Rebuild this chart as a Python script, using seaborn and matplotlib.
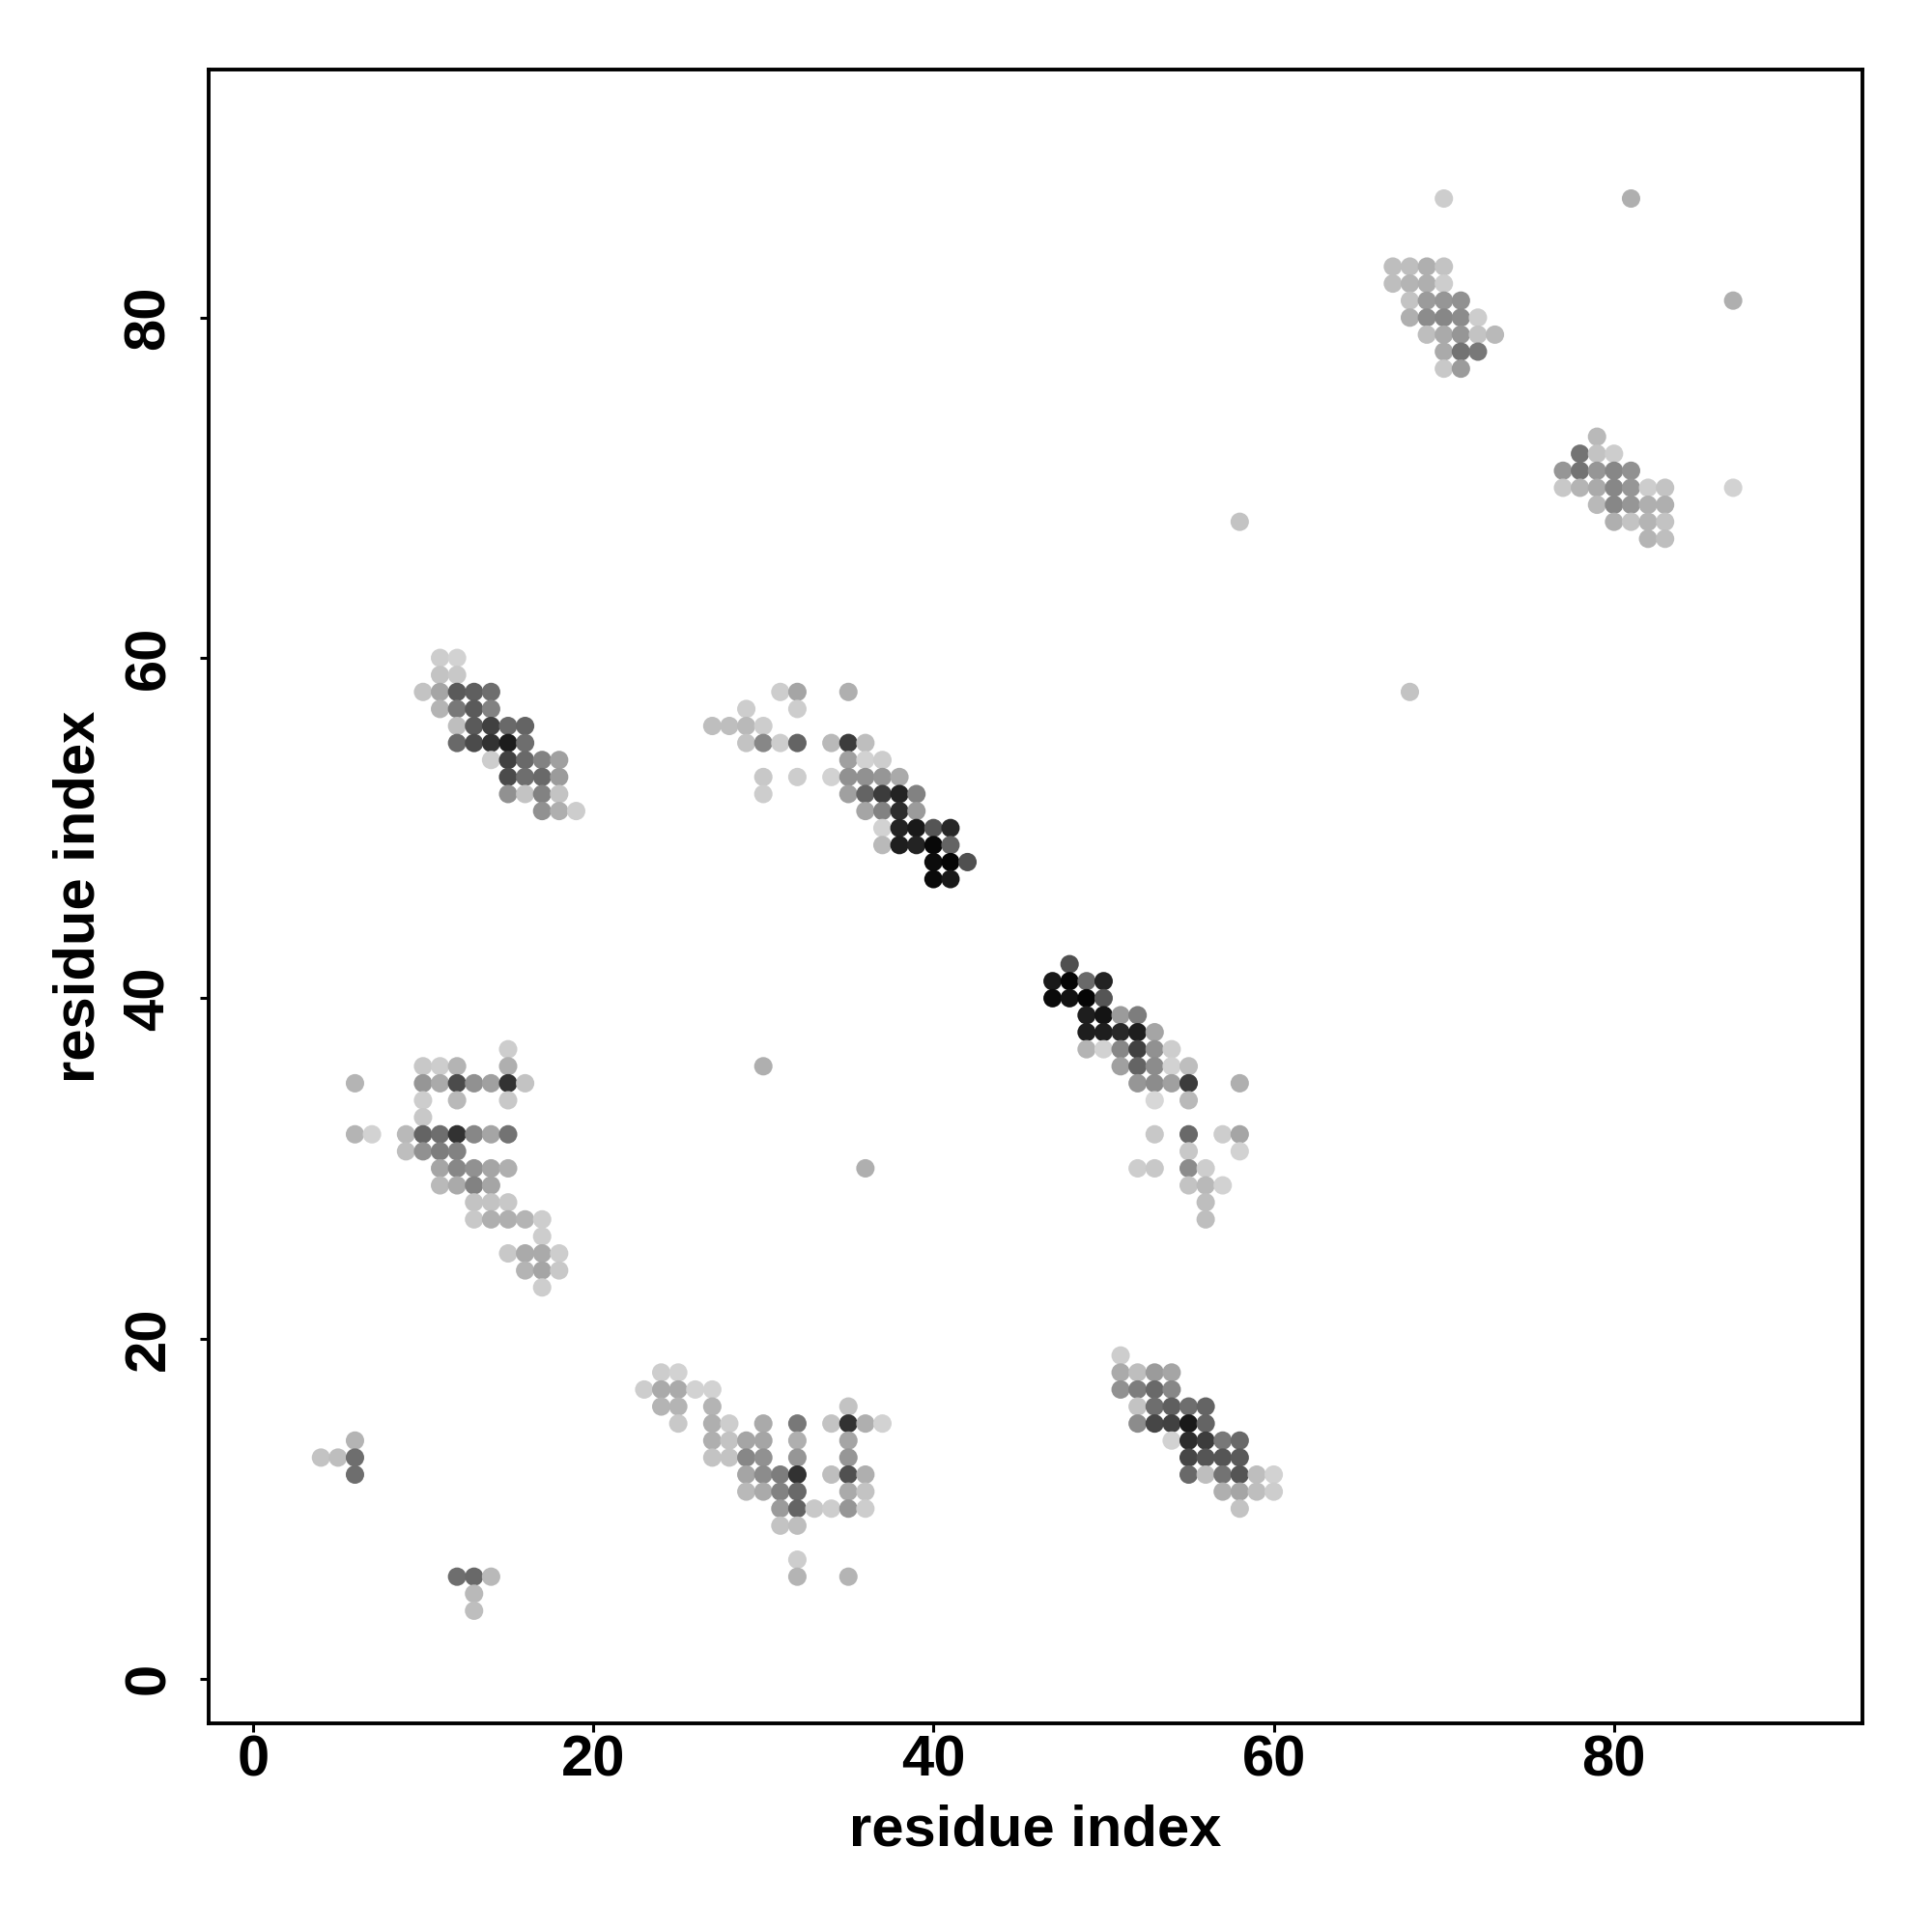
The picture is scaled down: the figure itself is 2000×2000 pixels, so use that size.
import matplotlib
matplotlib.use("Agg")
import matplotlib.pyplot as plt
import pandas as pd
import seaborn as sns

tick_values = [0, 20, 40, 60, 80]
axis_title = "residue index"

# contact map clusters: residue x, residue y, grey level (0 black - 255 white)
a_x = [11, 12,
       11, 12,
       10, 11, 12, 13, 14,
       11, 12, 13, 14,
       12, 13, 14, 15, 16,
       12, 13, 14, 15, 16,
       14, 15, 16, 17, 18,
       15, 16, 17, 18,
       15, 16, 17, 18,
       17, 18, 19]
a_y = [60, 60,
       59, 59,
       58, 58, 58, 58, 58,
       57, 57, 57, 57,
       56, 56, 56, 56, 56,
       55, 55, 55, 55, 55,
       54, 54, 54, 54, 54,
       53, 53, 53, 53,
       52, 52, 52, 52,
       51, 51, 51]
a_g = [205, 210,
       195, 200,
       195, 165, 90, 95, 110,
       180, 120, 90, 130,
       190, 90, 65, 105, 100,
       105, 75, 50, 28, 110,
       205, 65, 105, 130, 160,
       75, 110, 105, 155,
       145, 195, 130, 195,
       145, 175, 205]

b_x = [31, 32, 35,
       29, 32,
       27, 28, 29, 30,
       29, 30, 31, 32, 34, 35, 36,
       35, 36, 37,
       30, 32, 34, 35, 36, 37, 38,
       30, 35, 36, 37, 38, 39,
       36, 37, 38, 39,
       37, 38, 39, 40, 41,
       37, 38, 39, 40, 41,
       40, 41, 42,
       40, 41]
b_y = [58, 58, 58,
       57, 57,
       56, 56, 56, 56,
       55, 55, 55, 55, 55, 55, 55,
       54, 54, 54,
       53, 53, 53, 53, 53, 53, 53,
       52, 52, 52, 52, 52, 52,
       51, 51, 51, 51,
       50, 50, 50, 50, 50,
       49, 49, 49, 49, 49,
       48, 48, 48,
       47, 47]
b_g = [205, 165, 175,
       205, 205,
       190, 190, 185, 205,
       195, 135, 205, 100, 185, 60, 190,
       160, 210, 205,
       200, 205, 210, 145, 145, 150, 170,
       205, 160, 100, 60, 35, 130,
       165, 130, 45, 155,
       210, 35, 25, 85, 40,
       185, 30, 35, 8, 100,
       12, 5, 80,
       10, 25]

c_x = [48,
       47, 48, 49, 50,
       47, 48, 49, 50,
       49, 50, 51, 52,
       49, 50, 51, 52, 53,
       49, 50, 51, 52, 53, 54,
       51, 52, 53, 54, 55,
       52, 53, 54, 55, 58,
       53, 55,
       53, 55, 57, 58,
       55, 58,
       52, 53, 55, 56,
       55, 56, 57,
       56,
       56]
c_y = [42,
       41, 41, 41, 41,
       40, 40, 40, 40,
       39, 39, 39, 39,
       38, 38, 38, 38, 38,
       37, 37, 37, 37, 37, 37,
       36, 36, 36, 36, 36,
       35, 35, 35, 35, 35,
       34, 34,
       32, 32, 32, 32,
       31, 31,
       30, 30, 30, 30,
       29, 29, 29,
       28,
       27]
c_g = [80,
       25, 5, 105, 35,
       10, 18, 5, 85,
       30, 20, 155, 125,
       30, 30, 40, 30, 165,
       180, 210, 135, 65, 145, 205,
       160, 100, 140, 210, 190,
       150, 140, 160, 60, 175,
       215, 185,
       200, 105, 205, 165,
       200, 210,
       205, 200, 140, 205,
       195, 185, 210,
       190,
       190]

d_x = [15,
       10, 11, 12, 15,
       6, 10, 11, 12, 13, 14, 15, 16,
       10, 12, 15,
       10,
       6, 7, 9, 10, 11, 12, 13, 14, 15,
       9, 10, 11, 12,
       11, 12, 13, 14, 15,
       11, 12, 13, 14,
       13, 14, 15,
       13, 14, 15, 16, 17,
       17,
       15, 16, 17, 18,
       16, 17, 18,
       17]
d_y = [37,
       36, 36, 36, 36,
       35, 35, 35, 35, 35, 35, 35, 35,
       34, 34, 34,
       33,
       32, 32, 32, 32, 32, 32, 32, 32, 32,
       31, 31, 31, 31,
       30, 30, 30, 30, 30,
       29, 29, 29, 29,
       28, 28, 28,
       27, 27, 27, 27, 27,
       26,
       25, 25, 25, 25,
       24, 24, 24,
       23]
d_g = [205,
       200, 205, 180, 175,
       180, 150, 170, 75, 145, 160, 50, 195,
       205, 185, 200,
       200,
       180, 210, 185, 100, 110, 50, 135, 165, 115,
       190, 145, 125, 130,
       165, 135, 145, 165, 175,
       185, 170, 130, 165,
       195, 195, 200,
       200, 175, 175, 180, 205,
       205,
       200, 170, 170, 205,
       180, 165, 200,
       205]

e_x = [24, 25,
       23, 24, 25, 26, 27,
       24, 25, 27, 35,
       25, 27, 28, 30, 32, 34, 35, 36, 37,
       27, 28, 29, 30, 32, 35,
       27, 28, 29, 30, 32, 35,
       29, 30, 31, 32, 34, 35, 36,
       29, 30, 31, 32, 35, 36,
       31, 32, 33, 34, 35, 36,
       31, 32,
       32,
       32, 35]
e_y = [18, 18,
       17, 17, 17, 17, 17,
       16, 16, 16, 16,
       15, 15, 15, 15, 15, 15, 15, 15, 15,
       14, 14, 14, 14, 14, 14,
       13, 13, 13, 13, 13, 13,
       12, 12, 12, 12, 12, 12, 12,
       11, 11, 11, 11, 11, 11,
       10, 10, 10, 10, 10, 10,
       9, 9,
       7,
       6, 6]
e_g = [205, 210,
       205, 170, 170, 210, 210,
       180, 180, 180, 195,
       200, 175, 205, 170, 120, 195, 50, 175, 210,
       175, 195, 165, 165, 175, 165,
       195, 195, 135, 145, 150, 150,
       165, 140, 125, 50, 190, 80, 175,
       185, 170, 130, 105, 170, 195,
       155, 100, 200, 205, 150, 205,
       195, 190,
       205,
       180, 180]

f_x = [51,
       51, 52, 53, 54,
       51, 52, 53, 54,
       52, 53, 54, 55, 56,
       52, 53, 54, 55, 56,
       54, 55, 56, 57, 58,
       55, 56, 57, 58,
       55, 56, 57, 58, 59, 60,
       57, 58, 59, 60,
       58]
f_y = [19,
       18, 18, 18, 18,
       17, 17, 17, 17,
       16, 16, 16, 16, 16,
       15, 15, 15, 15, 15,
       14, 14, 14, 14, 14,
       13, 13, 13, 13,
       12, 12, 12, 12, 12, 12,
       11, 11, 11, 11,
       10]
f_g = [205,
       170, 190, 155, 165,
       145, 125, 105, 135,
       195, 110, 95, 110, 100,
       140, 70, 65, 25, 100,
       210, 45, 60, 120, 105,
       70, 85, 85, 90,
       105, 190, 115, 85, 190, 210,
       175, 165, 190, 205,
       195]

g_x = [67, 68, 69, 70,
       67, 68, 69, 70,
       68, 69, 70, 71,
       68, 69, 70, 71, 72,
       69, 70, 71, 72, 73,
       70, 71, 72,
       70, 71]
g_y = [83, 83, 83, 83,
       82, 82, 82, 82,
       81, 81, 81, 81,
       80, 80, 80, 80, 80,
       79, 79, 79, 79, 79,
       78, 78, 78,
       77, 77]
g_g = [190, 190, 175, 195,
       190, 180, 175, 205,
       195, 155, 150, 145,
       175, 140, 135, 140, 205,
       190, 170, 150, 195, 185,
       170, 115, 120,
       200, 155]

h_x = [79,
       78, 79, 80,
       77, 78, 79, 80, 81,
       77, 78, 79, 80, 81, 82, 83,
       79, 80, 81, 82, 83,
       80, 81, 82, 83,
       82, 83]
h_y = [73,
       72, 72, 72,
       71, 71, 71, 71, 71,
       70, 70, 70, 70, 70, 70, 70,
       69, 69, 69, 69, 69,
       68, 68, 68, 68,
       67, 67]
h_g = [185,
       115, 195, 205,
       150, 115, 150, 135, 145,
       200, 180, 170, 135, 150, 205, 195,
       185, 135, 150, 175, 175,
       175, 195, 180, 195,
       180, 190]

i_x = [6, 4, 5, 6, 6,
       12, 13, 14, 13, 13,
       70, 81, 87, 87, 58, 68, 30, 36]
i_y = [14, 13, 13, 13, 12,
       6, 6, 6, 5, 4,
       87, 87, 81, 70, 68, 58, 36, 30]
i_g = [180, 195, 190, 110, 110,
       110, 105, 185, 185, 190,
       205, 175, 175, 210, 195, 195, 175, 175]

contacts = pd.DataFrame({
    "x": a_x + b_x + c_x + d_x + e_x + f_x + g_x + h_x + i_x,
    "y": a_y + b_y + c_y + d_y + e_y + f_y + g_y + h_y + i_y,
    "grey": a_g + b_g + c_g + d_g + e_g + f_g + g_g + h_g + i_g,
})

sns.set_theme(style="white")
plt.rcParams["font.family"] = ["Liberation Sans", "DejaVu Sans"]

fig = plt.figure(figsize=(10, 10), dpi=200)
ax = fig.add_axes([216 / 2000, 1 - 1784 / 2000, 1712 / 2000, 1712 / 2000])

sns.scatterplot(data=contacts, x="x", y="y", hue="grey", palette="gray",
                hue_norm=(0, 255), s=47, linewidth=0, legend=False, ax=ax)

ax.set_xlim(-2.6, 94.6)
ax.set_ylim(-2.62, 94.58)
ax.set_xticks(tick_values)
ax.set_yticks(tick_values)
ax.set_xticklabels([str(v) for v in tick_values], fontsize=21.5, fontweight="bold")
ax.set_yticklabels([str(v) for v in tick_values], fontsize=21.5, fontweight="bold",
                   rotation=90, va="center")
ax.tick_params(axis="both", length=3.2, width=1.1, color="black", labelcolor="black",
               bottom=True, left=True)
ax.tick_params(axis="x", pad=1)
ax.tick_params(axis="y", pad=9)
for side in ax.spines.values():
    side.set_visible(True)
    side.set_color("black")
    side.set_linewidth(1.4)
ax.set_xlabel(axis_title, fontsize=21.5, fontweight="bold", color="black", labelpad=6)
ax.set_ylabel(axis_title, fontsize=21.5, fontweight="bold", color="black", labelpad=6.3)

fig.savefig("out.png", dpi=200, facecolor="white")
